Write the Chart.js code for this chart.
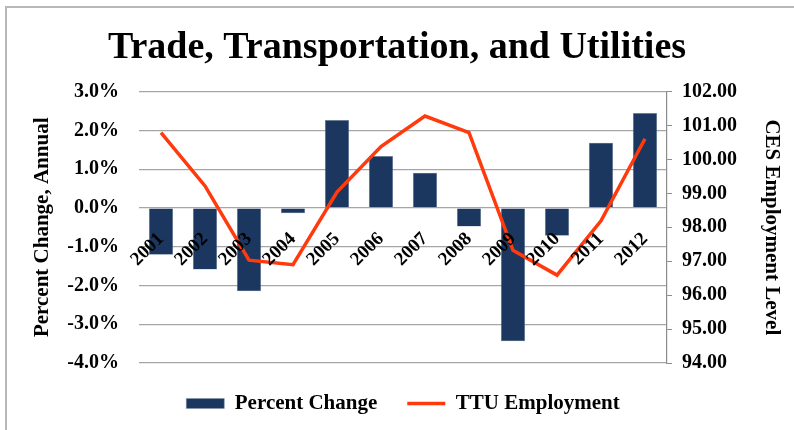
<!DOCTYPE html>
<html>
<head>
<meta charset="utf-8">
<script src="https://cdn.jsdelivr.net/npm/chart.js@4.4.1/dist/chart.umd.min.js"></script>
<style>
  html, body { margin: 0; padding: 0; background: #fff; overflow: hidden; }
  #frame { position: absolute; left: 5px; top: 6px; width: 820px; height: 460px; border-left: 2px solid #b8b8b8; border-top: 2px solid #b8b8b8; }
  #wrap { position: absolute; left: 0; top: 0; width: 794px; height: 430px; }
</style>
</head>
<body>
<div id="frame"></div>
<div id="wrap"><canvas id="chart"></canvas></div>
<script>
const years = ['2001', '2002', '2003', '2004', '2005', '2006', '2007', '2008', '2009', '2010', '2011', '2012'];
const percentChange = [-1.21, -1.59, -2.15, -0.14, 2.27, 1.34, 0.91, -0.48, -3.44, -0.72, 1.68, 2.45];
const ttuEmployment = [100.79, 99.22, 97.03, 96.90, 99.04, 100.38, 101.28, 100.79, 97.32, 96.59, 98.19, 100.61];
const pctTicks = [-4, 3];
const levelTicks = [94, 102];

const serif = "'Liberation Serif', 'Times New Roman', serif";
const navy = '#1b375f';
const red = '#ff3a0c';

new Chart(document.getElementById('chart'), {
  data: {
    labels: years,
    datasets: [
      {
        type: 'line',
        label: 'TTU Employment',
        data: ttuEmployment,
        yAxisID: 'y1',
        borderColor: red,
        backgroundColor: red,
        borderWidth: 3.5,
        pointRadius: 0,
        tension: 0,
        pointStyle: 'line',
        order: 1,
      },
      {
        type: 'bar',
        label: 'Percent Change',
        data: percentChange,
        yAxisID: 'y',
        backgroundColor: navy,
        borderColor: '#7f93ad',
        borderWidth: 0.5,
        categoryPercentage: 1,
        barPercentage: 0.55,
        pointStyle: 'rect',
        order: 2,
      },
    ],
  },
  options: {
    responsive: true,
    maintainAspectRatio: false,
    animation: false,
    layout: { padding: { left: 8, right: 8, top: 8, bottom: 6 } },
    plugins: {
      title: {
        display: true,
        text: 'Trade, Transportation, and Utilities',
        color: '#000',
        font: { family: serif, size: 38, weight: 'bold' },
        padding: { top: 17, bottom: 21 },
      },
      legend: {
        position: 'bottom',
        fullSize: false,
        reverse: true,
        labels: {
          usePointStyle: true,
          pointStyleWidth: 38,
          boxHeight: 10,
          padding: 30,
          color: '#000',
          font: { family: serif, size: 21, weight: 'bold' },
        },
      },
      tooltip: { enabled: false },
    },
    scales: {
      x: {
        position: { y: 0 },
        grid: { display: false },
        border: { display: false },
        ticks: {
          z: 1,
          minRotation: 45,
          maxRotation: 45,
          padding: 12,
          color: '#000',
          font: { family: serif, size: 19, weight: 'bold' },
        },
      },
      y: {
        position: 'left',
        min: pctTicks[0],
        max: pctTicks[1],
        ticks: {
          stepSize: 1,
          padding: 20,
          color: '#000',
          font: { family: serif, size: 20, weight: 'bold' },
          callback: v => v.toFixed(1) + '%',
        },
        grid: { color: '#a6a6a6', lineWidth: 1.2, drawTicks: false },
        border: { display: false },
        title: {
          display: true,
          text: 'Percent Change, Annual',
          color: '#000',
          font: { family: serif, size: 21, weight: 'bold' },
          padding: { top: 22, bottom: 0 },
        },
        afterFit: s => { s.width = 131; },
      },
      y1: {
        position: 'right',
        min: levelTicks[0],
        max: levelTicks[1],
        ticks: {
          stepSize: 1,
          padding: 10,
          color: '#000',
          font: { family: serif, size: 20, weight: 'bold' },
          callback: v => v.toFixed(2),
        },
        grid: { drawOnChartArea: false, color: '#8c8c8c', tickLength: 5 },
        border: { display: true, color: '#8c8c8c', width: 1.2 },
        title: {
          display: true,
          text: 'CES Employment Level',
          color: '#000',
          font: { family: serif, size: 21, weight: 'bold' },
          padding: { top: 2, bottom: 0 },
        },
        afterFit: s => { s.width = 119; },
      },
    },
  },
});
</script>
</body>
</html>
